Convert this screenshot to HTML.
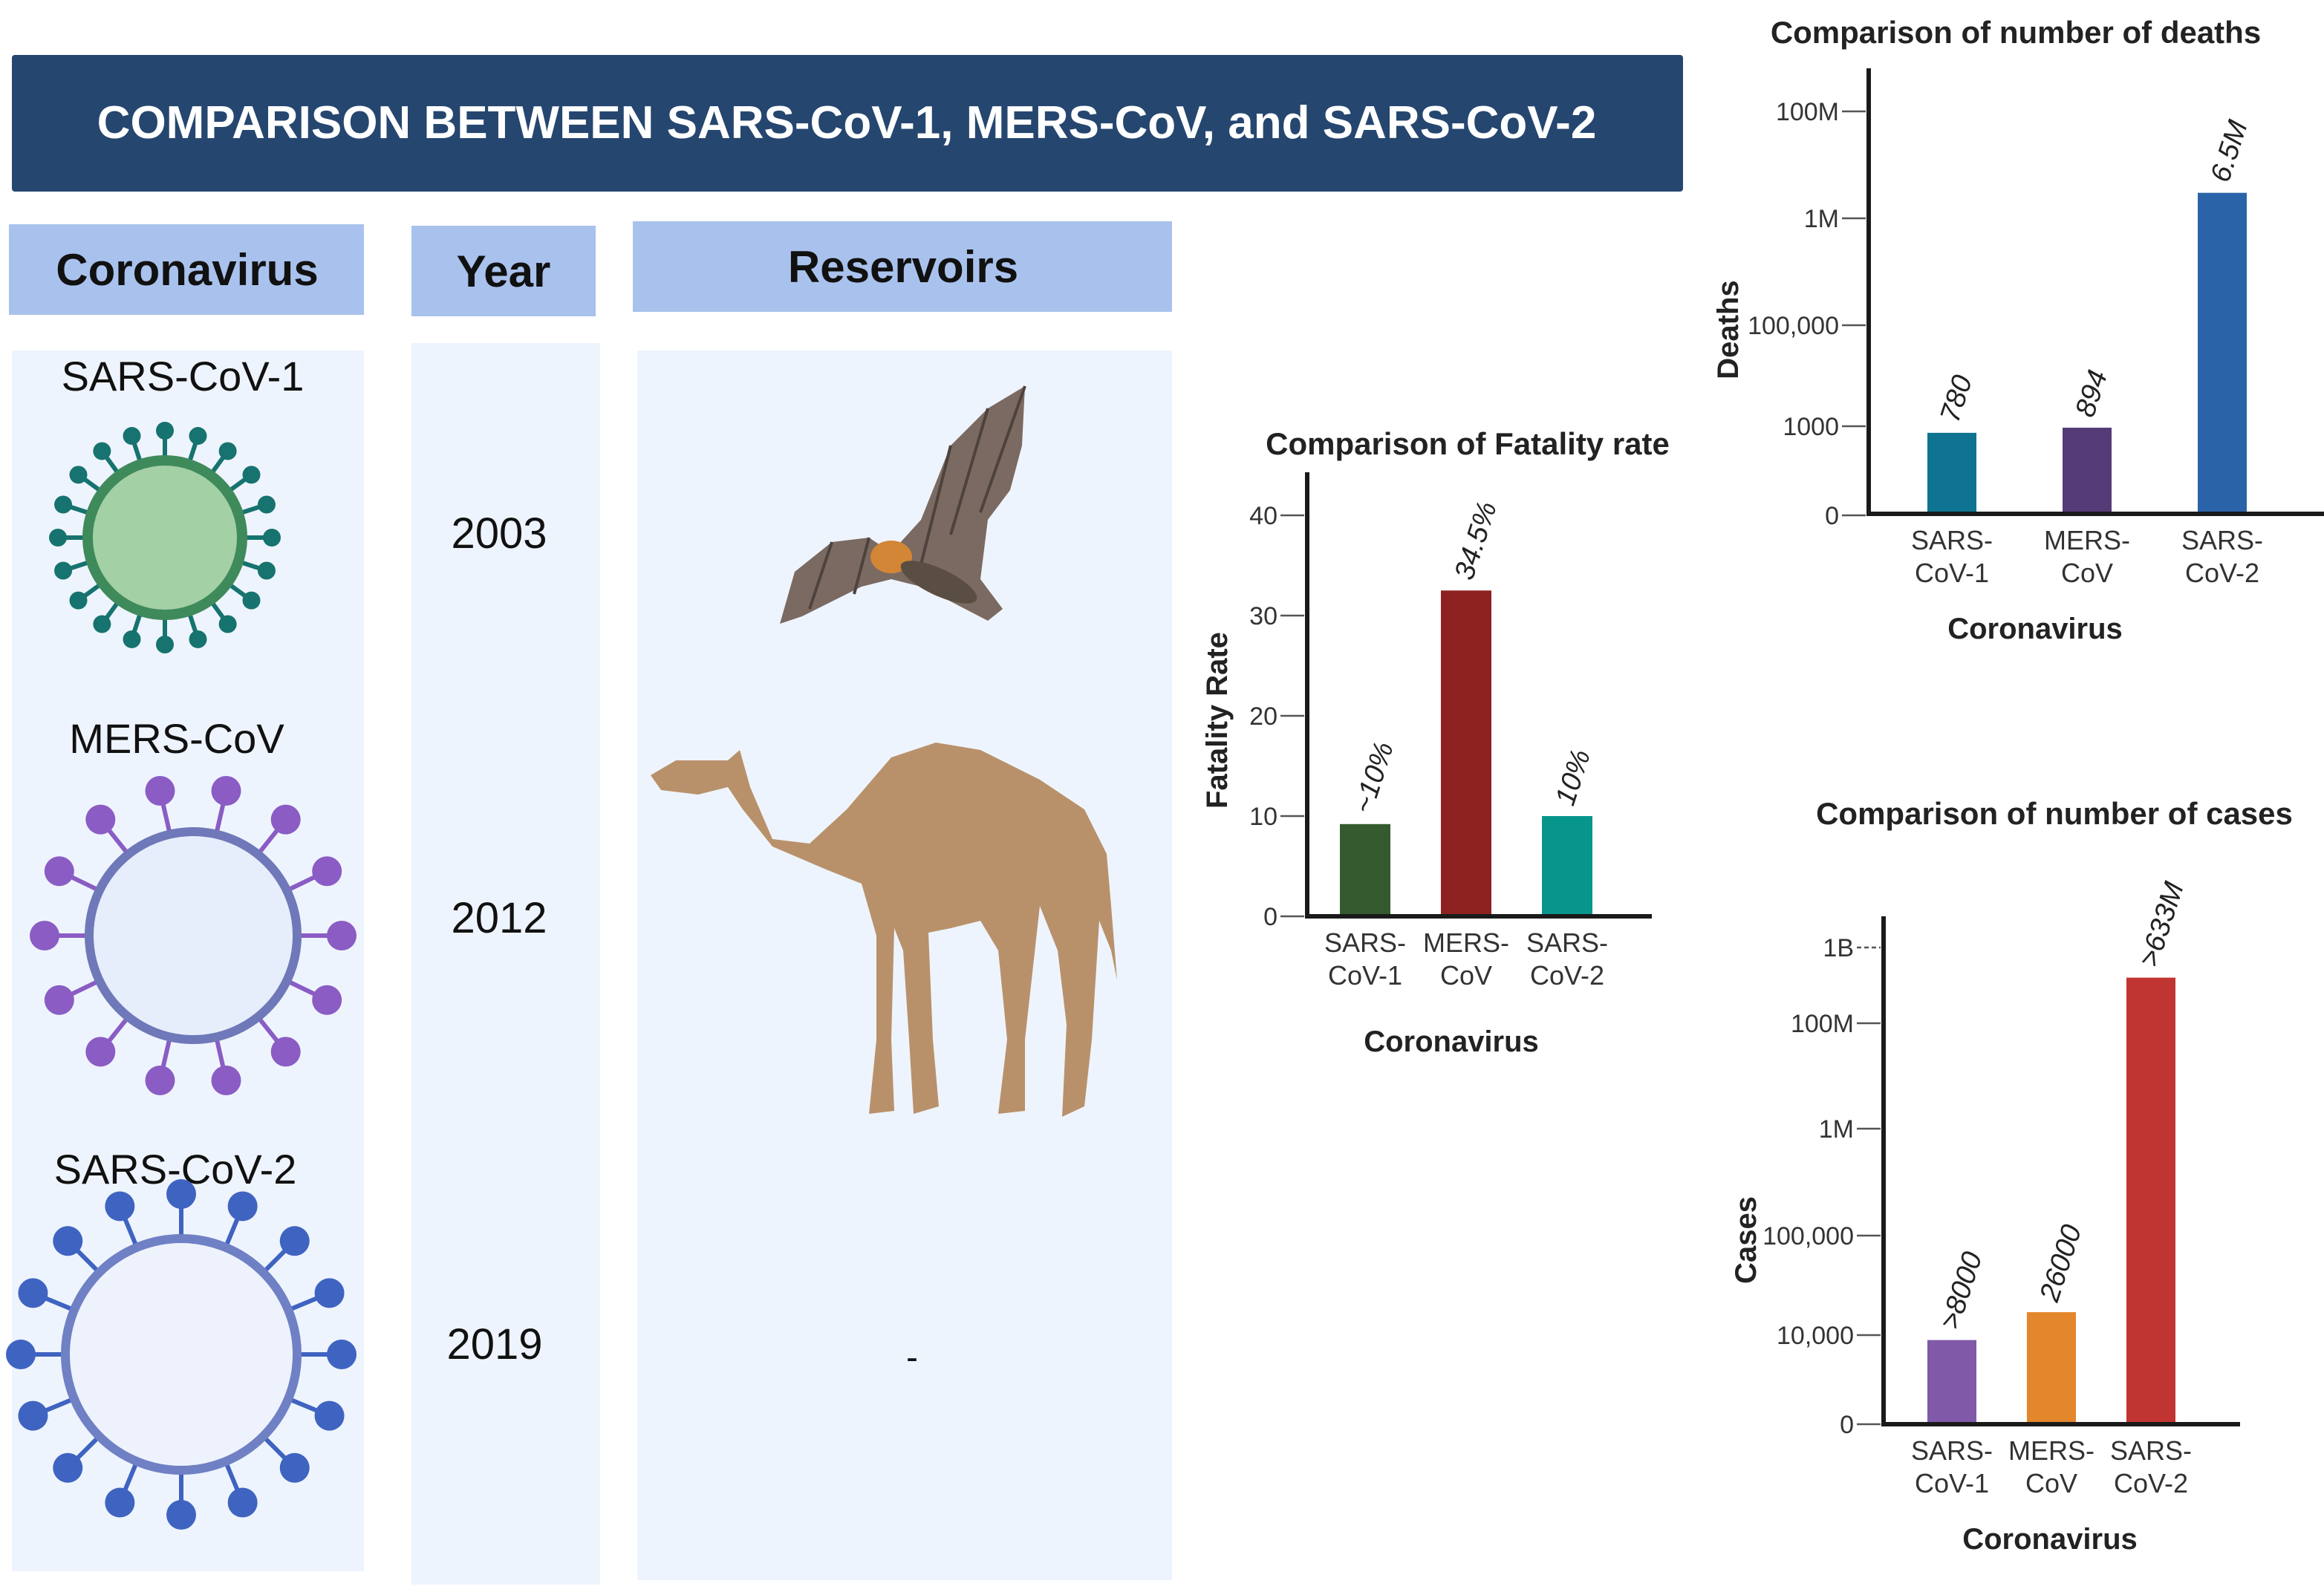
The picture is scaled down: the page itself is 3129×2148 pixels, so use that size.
<!DOCTYPE html>
<html><head><meta charset="utf-8"><style>
html,body{margin:0;padding:0;background:#fff;}
svg{display:block;font-family:"Liberation Sans",Arial,sans-serif;}
</style></head><body>
<svg id="root" width="3129" height="2148" viewBox="0 0 1564.5 1074" xmlns="http://www.w3.org/2000/svg">
<rect x="8" y="37" width="1125" height="92" fill="#25466f" rx="2"/>
<text x="570" y="93" text-anchor="middle" font-size="31" font-weight="bold" fill="#fff">COMPARISON BETWEEN SARS-CoV-1, MERS-CoV, and  SARS-CoV-2</text>
<rect x="8" y="236" width="237" height="822" fill="#eef4fd"/>
<rect x="277" y="231" width="127" height="836" fill="#eef4fd"/>
<rect x="429" y="236" width="360" height="828" fill="#eef4fd"/>
<rect x="6" y="151" width="239" height="61" fill="#a9c2ed"/>
<text x="126" y="192" text-anchor="middle" font-size="30" font-weight="bold" fill="#111">Coronavirus</text>
<rect x="277" y="152" width="124" height="61" fill="#a9c2ed"/>
<text x="339" y="193" text-anchor="middle" font-size="30" font-weight="bold" fill="#111">Year</text>
<rect x="426" y="149" width="363" height="61" fill="#a9c2ed"/>
<text x="608" y="190" text-anchor="middle" font-size="30" font-weight="bold" fill="#111">Reservoirs</text>
<text x="123" y="263" text-anchor="middle" font-size="28" fill="#111">SARS-CoV-1</text>
<text x="119" y="507" text-anchor="middle" font-size="28" fill="#111">MERS-CoV</text>
<text x="118" y="797" text-anchor="middle" font-size="28" fill="#111">SARS-CoV-2</text>
<text x="336" y="369" text-anchor="middle" font-size="29" fill="#111">2003</text>
<text x="336" y="628" text-anchor="middle" font-size="29" fill="#111">2012</text>
<text x="333" y="915" text-anchor="middle" font-size="29" fill="#111">2019</text>
<text x="614" y="922" text-anchor="middle" font-size="24" fill="#111">-</text>
<g id="v1"></g>
<g id="v2"></g>
<g id="v3"></g>
<g>
<path d="M525,420 L535,385 L560,365 L585,362 L600,372 L620,350 L640,300 L665,275 L690,260 L688,300 L680,330 L665,350 L660,390 L675,410 L665,418 L640,405 L620,395 L600,390 L580,395 L560,405 L540,415 Z" fill="#7a6a62"/>
<path d="M640,300 L620,380 M665,275 L640,360 M690,260 L660,345 M560,365 L545,410 M585,362 L575,400" stroke="#4e423d" stroke-width="2" fill="none"/>
<ellipse cx="600" cy="375" rx="14" ry="11" fill="#d38635"/>
<ellipse cx="632" cy="392" rx="28" ry="9" fill="#5a4e42" transform="rotate(25 632 392)"/>
</g>
<g>
<path d="M438,522 L455,512 L490,512 L498,505 L505,530 L520,565 L545,568 L570,545 L600,510 L630,500 L660,505 L700,525 L730,545 L745,575 L748,610 L752,660 L748,640 L740,620 L735,700 L730,745 L715,752 L718,690 L712,640 L700,610 L690,700 L690,748 L672,750 L678,700 L672,640 L660,620 L640,625 L625,628 L628,700 L632,745 L615,750 L612,700 L608,640 L602,625 L600,700 L602,748 L585,750 L590,700 L590,630 L580,595 L555,585 L520,570 L500,545 L490,530 L470,535 L445,532 Z" fill="#b8916b"/>
</g>
<g id="charts"></g>
</svg>
<script>
// ---- Fatality rate chart data ----
const fatalCategories = ["SARS-CoV-1", "MERS-CoV", "SARS-CoV-2"];
const fatalValues = [9.2, 32.5, 10];
const fatalLabels = ["~10%", "34.5%", "10%"];
const fatalTicks = [0, 10, 20, 30, 40];
const fatalTickLabels = ["0", "10", "20", "30", "40"];
const fatalColors = ["#355a30", "#8e2220", "#08958b"];
// ---- Deaths chart data ----
const deathCategories = ["SARS-CoV-1", "MERS-CoV", "SARS-CoV-2"];
const deathValues = [600, 894, 3000000];
const deathLabels = ["780", "894", "6.5M"];
const deathTicks = [1, 1000, 100000, 1000000, 100000000];
const deathTickLabels = ["0", "1000", "100,000", "1M", "100M"];
const deathColors = ["#0f7491", "#553c78", "#2b63a9"];
// ---- Cases chart data ----
const caseCategories = ["SARS-CoV-1", "MERS-CoV", "SARS-CoV-2"];
const caseValues = [6000, 17000, 400000000];
const caseLabels = [">8000", "26000", ">633M"];
const caseTicks = [1, 10000, 100000, 1000000, 100000000, 1000000000];
const caseTickLabels = ["0", "10,000", "100,000", "1M", "100M", "1B"];
const caseColors = ["#8059a9", "#e3862c", "#c03532"];

const NS = "http://www.w3.org/2000/svg";
function mk(tag, attrs, parent, txt){
  const e = document.createElementNS(NS, tag);
  for (const k in attrs) e.setAttribute(k, attrs[k]);
  if (txt !== undefined) e.textContent = txt;
  parent.appendChild(e);
  return e;
}
const charts = document.getElementById('charts');

function linScale(ticks, y0, y1){
  const mn = ticks[0], mx = ticks[ticks.length-1];
  return v => y0 - (v - mn) / (mx - mn) * (y0 - y1);
}
// piecewise-log axis through the drawn tick rows (gaps = layout spacing between tick rows)
function tickLogScale(ticks, y0, gaps){
  return v => {
    v = Math.max(v, 1);
    let base = y0;
    for (let i = 0; i < ticks.length - 1; i++){
      const a = ticks[i], b = ticks[i+1];
      if (v <= b || i === ticks.length - 2){
        const f = (Math.log10(v) - Math.log10(a)) / (Math.log10(b) - Math.log10(a));
        return base - f * gaps[i];
      }
      base -= gaps[i];
    }
  };
}

function drawChart(cfg){
  const g = mk('g', {}, charts);
  
  
  const t = mk('text', {x: cfg.titleX, y: cfg.titleY, 'text-anchor': 'middle', 'font-size': 21, 'font-weight': 'bold', fill: '#222'}, g, cfg.title);
  
  
  cfg.ticks.forEach((tv, i) => {
    const y = cfg.scale(tv);
    const tk = mk('line', {x1: cfg.axisX - 18, x2: cfg.axisX - 2, y1: y, y2: y, stroke: '#555', 'stroke-width': 1.3, 'stroke-dasharray': cfg.dashTop && i === cfg.ticks.length-1 ? '3,2' : 'none'}, g);
    
    
    const tl = mk('text', {x: cfg.axisX - 20, y: y + 6, 'text-anchor': 'end', 'font-size': 17, fill: '#333'}, g, cfg.tickLabels[i]);
    
    
  });
  cfg.values.forEach((v, i) => {
    const cx = cfg.barX[0] + i * cfg.barGap;
    const y = cfg.scale(v);
    const b = mk('rect', {x: cx - cfg.barW/2, y: y, width: cfg.barW, height: cfg.axisY - y, fill: cfg.colors[i]}, g);
    
    
    const lb = mk('text', {x: cx + 4, y: y - 6, 'font-size': 19, 'font-style': 'italic', fill: '#222', transform: `rotate(-72 ${cx+4} ${y-6})`}, g, cfg.labels[i]);
    
    
    const parts = cfg.cats[i].split('-');
    const l1 = parts[0] + '-', l2 = parts.slice(1).join('-');
    const x1 = mk('text', {x: cx, y: cfg.axisY + 24, 'text-anchor': 'middle', 'font-size': 18, fill: '#333'}, g, l1);
    
    
    const x2 = mk('text', {x: cx, y: cfg.axisY + 46, 'text-anchor': 'middle', 'font-size': 18, fill: '#333'}, g, l2);
    
    
  });
  const ax = mk('path', {d: `M${cfg.axisX},${cfg.axisTop} L${cfg.axisX},${cfg.axisY} L${cfg.axisRight},${cfg.axisY}`, stroke: '#1a1a1a', 'stroke-width': 3, fill: 'none'}, g);
  
  
  const xt = mk('text', {x: cfg.xTitleX, y: cfg.xTitleY, 'text-anchor': 'middle', 'font-size': 20, 'font-weight': 'bold', fill: '#222'}, g, 'Coronavirus');
  
  
  const yt = mk('text', {x: cfg.yTitleX, y: cfg.yTitleY, 'text-anchor': 'middle', 'font-size': 20, 'font-weight': 'bold', fill: '#222', transform: `rotate(-90 ${cfg.yTitleX} ${cfg.yTitleY})`}, g, cfg.yTitle);
  
  
}

drawChart({name: 'fatality-rate-chart', title: 'Comparison of Fatality rate', titleX: 988, titleY: 306,
  axisX: 880, axisY: 617, axisTop: 318, axisRight: 1112,
  scale: linScale(fatalTicks, 617, 347), ticks: fatalTicks, tickLabels: fatalTickLabels,
  values: fatalValues, labels: fatalLabels, colors: fatalColors, cats: fatalCategories,
  barX: [919], barGap: 68, barW: 34, xTitleX: 977, xTitleY: 708, yTitleX: 826, yTitleY: 485, yTitle: 'Fatality Rate'});

drawChart({name: 'deaths-chart', title: 'Comparison of number of deaths', titleX: 1357, titleY: 29,
  axisX: 1258, axisY: 346, axisTop: 46, axisRight: 1565,
  scale: tickLogScale(deathTicks, 347, [60, 68, 72, 72]), ticks: deathTicks, tickLabels: deathTickLabels,
  values: deathValues, labels: deathLabels, colors: deathColors, cats: deathCategories,
  barX: [1314], barGap: 91, barW: 33, xTitleX: 1370, xTitleY: 430, yTitleX: 1170, yTitleY: 222, yTitle: 'Deaths'});

drawChart({name: 'cases-chart', title: 'Comparison of number of cases', titleX: 1383, titleY: 555,
  axisX: 1268, axisY: 959, axisTop: 617, axisRight: 1508, dashTop: true,
  scale: tickLogScale(caseTicks, 959, [60, 67, 72, 71, 51]), ticks: caseTicks, tickLabels: caseTickLabels,
  values: caseValues, labels: caseLabels, colors: caseColors, cats: caseCategories,
  barX: [1314], barGap: 67, barW: 33, xTitleX: 1380, xTitleY: 1043, yTitleX: 1182, yTitleY: 835, yTitle: 'Cases'});

function virus(id, cx, cy, r, body, ring, spike, n, big){
  const g = document.getElementById(id);
  for (let i = 0; i < n; i++){
    const a = i / n * Math.PI * 2;
    const x1 = cx + Math.cos(a) * r, y1 = cy + Math.sin(a) * r;
    const x2 = cx + Math.cos(a) * (r + (big ? 30 : 20)), y2 = cy + Math.sin(a) * (r + (big ? 30 : 20));
    mk('line', {x1, y1, x2, y2, stroke: spike, 'stroke-width': 3}, g);
    mk('circle', {cx: x2, cy: y2, r: big ? 10 : 6, fill: spike}, g);
  }
  mk('circle', {cx, cy, r, fill: body, stroke: ring, 'stroke-width': big ? 6 : 7}, g);
}
virus('v1', 111, 362, 52, '#a4d0a6', '#3f8a5b', '#16736f', 20, false);
virus('v2', 130, 630, 70, '#e6eefc', '#6f78b8', '#8a5cc4', 14, true);
virus('v3', 122, 912, 78, '#eef2fc', '#6f80c4', '#3f63c0', 16, true);
</script>
</body></html>
